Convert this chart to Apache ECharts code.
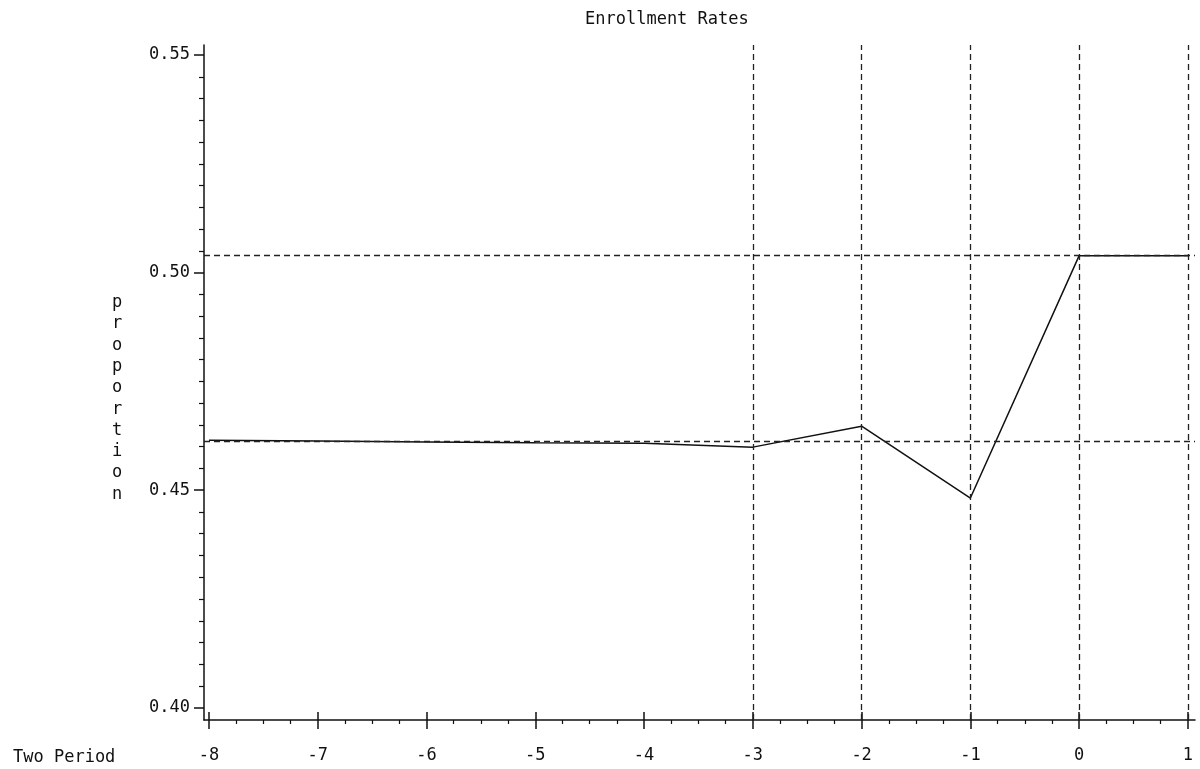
<!DOCTYPE html>
<html>
<head>
<meta charset="utf-8">
<title>Enrollment Rates</title>
<script src="https://cdn.jsdelivr.net/npm/echarts@6/dist/echarts.min.js"></script>
<style>
  html, body { margin: 0; padding: 0; background: #fff; }
  #chart { width: 1200px; height: 769px; }
</style>
</head>
<body>
<div id="chart"></div>
<script>
// two-period enrollment proportions
const periods = [-8, -7, -6, -5, -4, -3, -2, -1, 0, 1]
const enrollment = [0.4615, 0.4613, 0.4611, 0.4609, 0.4608, 0.4599, 0.4647, 0.4482, 0.5039, 0.5039]

// dashed reference lines
const refLevels = [0.4613, 0.5039]
const refPeriods = [-3, -2, -1, 0, 1]

// tick labels
const xTicks = [-8, -7, -6, -5, -4, -3, -2, -1, 0, 1]
const yTicks = [0.40, 0.45, 0.50, 0.55]

const titleText = 'Enrollment Rates'
const xName = 'Two Period'
const yName = 'proportion'

// unlabelled minor tick positions
const xMinor = []
for (let i = 0; i <= 36; i++) {
  if (i % 4 !== 0) xMinor.push(-8 + i * 0.25)
}
const yMinor = []
for (let i = 0; i <= 30; i++) {
  if (i % 10 !== 0) yMinor.push(+(0.40 + i * 0.005).toFixed(3))
}

const FONT = 'DejaVu Sans Mono'
const INK = '#111'
const X_MIN = -8.046, X_MAX = 1.065
const Y_MIN = 0.3972, Y_MAX = 0.5523

const textStyle = { fontFamily: FONT, fontSize: 17, fontWeight: 'normal', color: INK }

function xAxisBase() {
  return {
    type: 'value',
    position: 'bottom',
    min: X_MIN,
    max: X_MAX,
    splitLine: { show: false },
    axisLine: { show: false, onZero: false },
    axisLabel: { show: false },
    axisTick: { show: false },
  }
}

function yAxisBase() {
  return {
    type: 'value',
    position: 'left',
    min: Y_MIN,
    max: Y_MAX,
    splitLine: { show: false },
    axisLine: { show: false, onZero: false },
    axisLabel: { show: false },
    axisTick: { show: false },
  }
}

const chart = echarts.init(document.getElementById('chart'))

chart.setOption({
  backgroundColor: '#fff',
  animation: false,
  title: [
    { text: titleText, left: 580, top: 6, textStyle },
    { text: xName, left: 8, top: 744, textStyle },
    {
      text: yName.split('').join('\n'),
      left: 107,
      top: 287,
      textStyle: { ...textStyle, lineHeight: 21.3 },
    },
  ],
  grid: { left: 204, right: 5, top: 45, bottom: 49 },
  xAxis: [
    {
      ...xAxisBase(),
      axisLine: { show: true, onZero: false, lineStyle: { color: INK, width: 1.5 } },
      axisTick: { show: true, length: 9, customValues: xTicks, lineStyle: { color: INK, width: 1.5 } },
      axisLabel: {
        show: true,
        margin: 27,
        customValues: xTicks,
        fontFamily: FONT,
        fontSize: 17,
        color: INK,
      },
    },
    {
      ...xAxisBase(),
      axisTick: { show: true, inside: true, length: 8, customValues: xTicks, lineStyle: { color: INK, width: 1.5 } },
    },
    {
      ...xAxisBase(),
      axisTick: { show: true, length: 4, customValues: xMinor, lineStyle: { color: INK, width: 1.2 } },
    },
  ],
  yAxis: [
    {
      ...yAxisBase(),
      axisLine: { show: true, onZero: false, lineStyle: { color: INK, width: 1.5 } },
      axisTick: { show: true, length: 10, customValues: yTicks, lineStyle: { color: INK, width: 1.5 } },
      axisLabel: {
        show: true,
        margin: 14,
        customValues: yTicks,
        formatter: v => v.toFixed(2),
        fontFamily: FONT,
        fontSize: 17,
        color: INK,
      },
    },
    {
      ...yAxisBase(),
      axisTick: { show: true, length: 5, customValues: yMinor, lineStyle: { color: INK, width: 1.2 } },
    },
  ],
  series: [
    {
      type: 'line',
      xAxisIndex: 0,
      yAxisIndex: 0,
      data: periods.map((p, i) => [p, enrollment[i]]),
      symbol: 'none',
      lineStyle: { color: INK, width: 1.5 },
      markLine: {
        silent: true,
        precision: 4,
        symbol: ['none', 'none'],
        label: { show: false },
        lineStyle: { color: '#222', width: 1.3, type: [6, 4] },
        data: [
          ...refLevels.map(v => ({ yAxis: v })),
          ...refPeriods.map(v => ({ xAxis: v })),
        ],
      },
    },
  ],
})

window.addEventListener('resize', () => chart.resize())
</script>
</body>
</html>
